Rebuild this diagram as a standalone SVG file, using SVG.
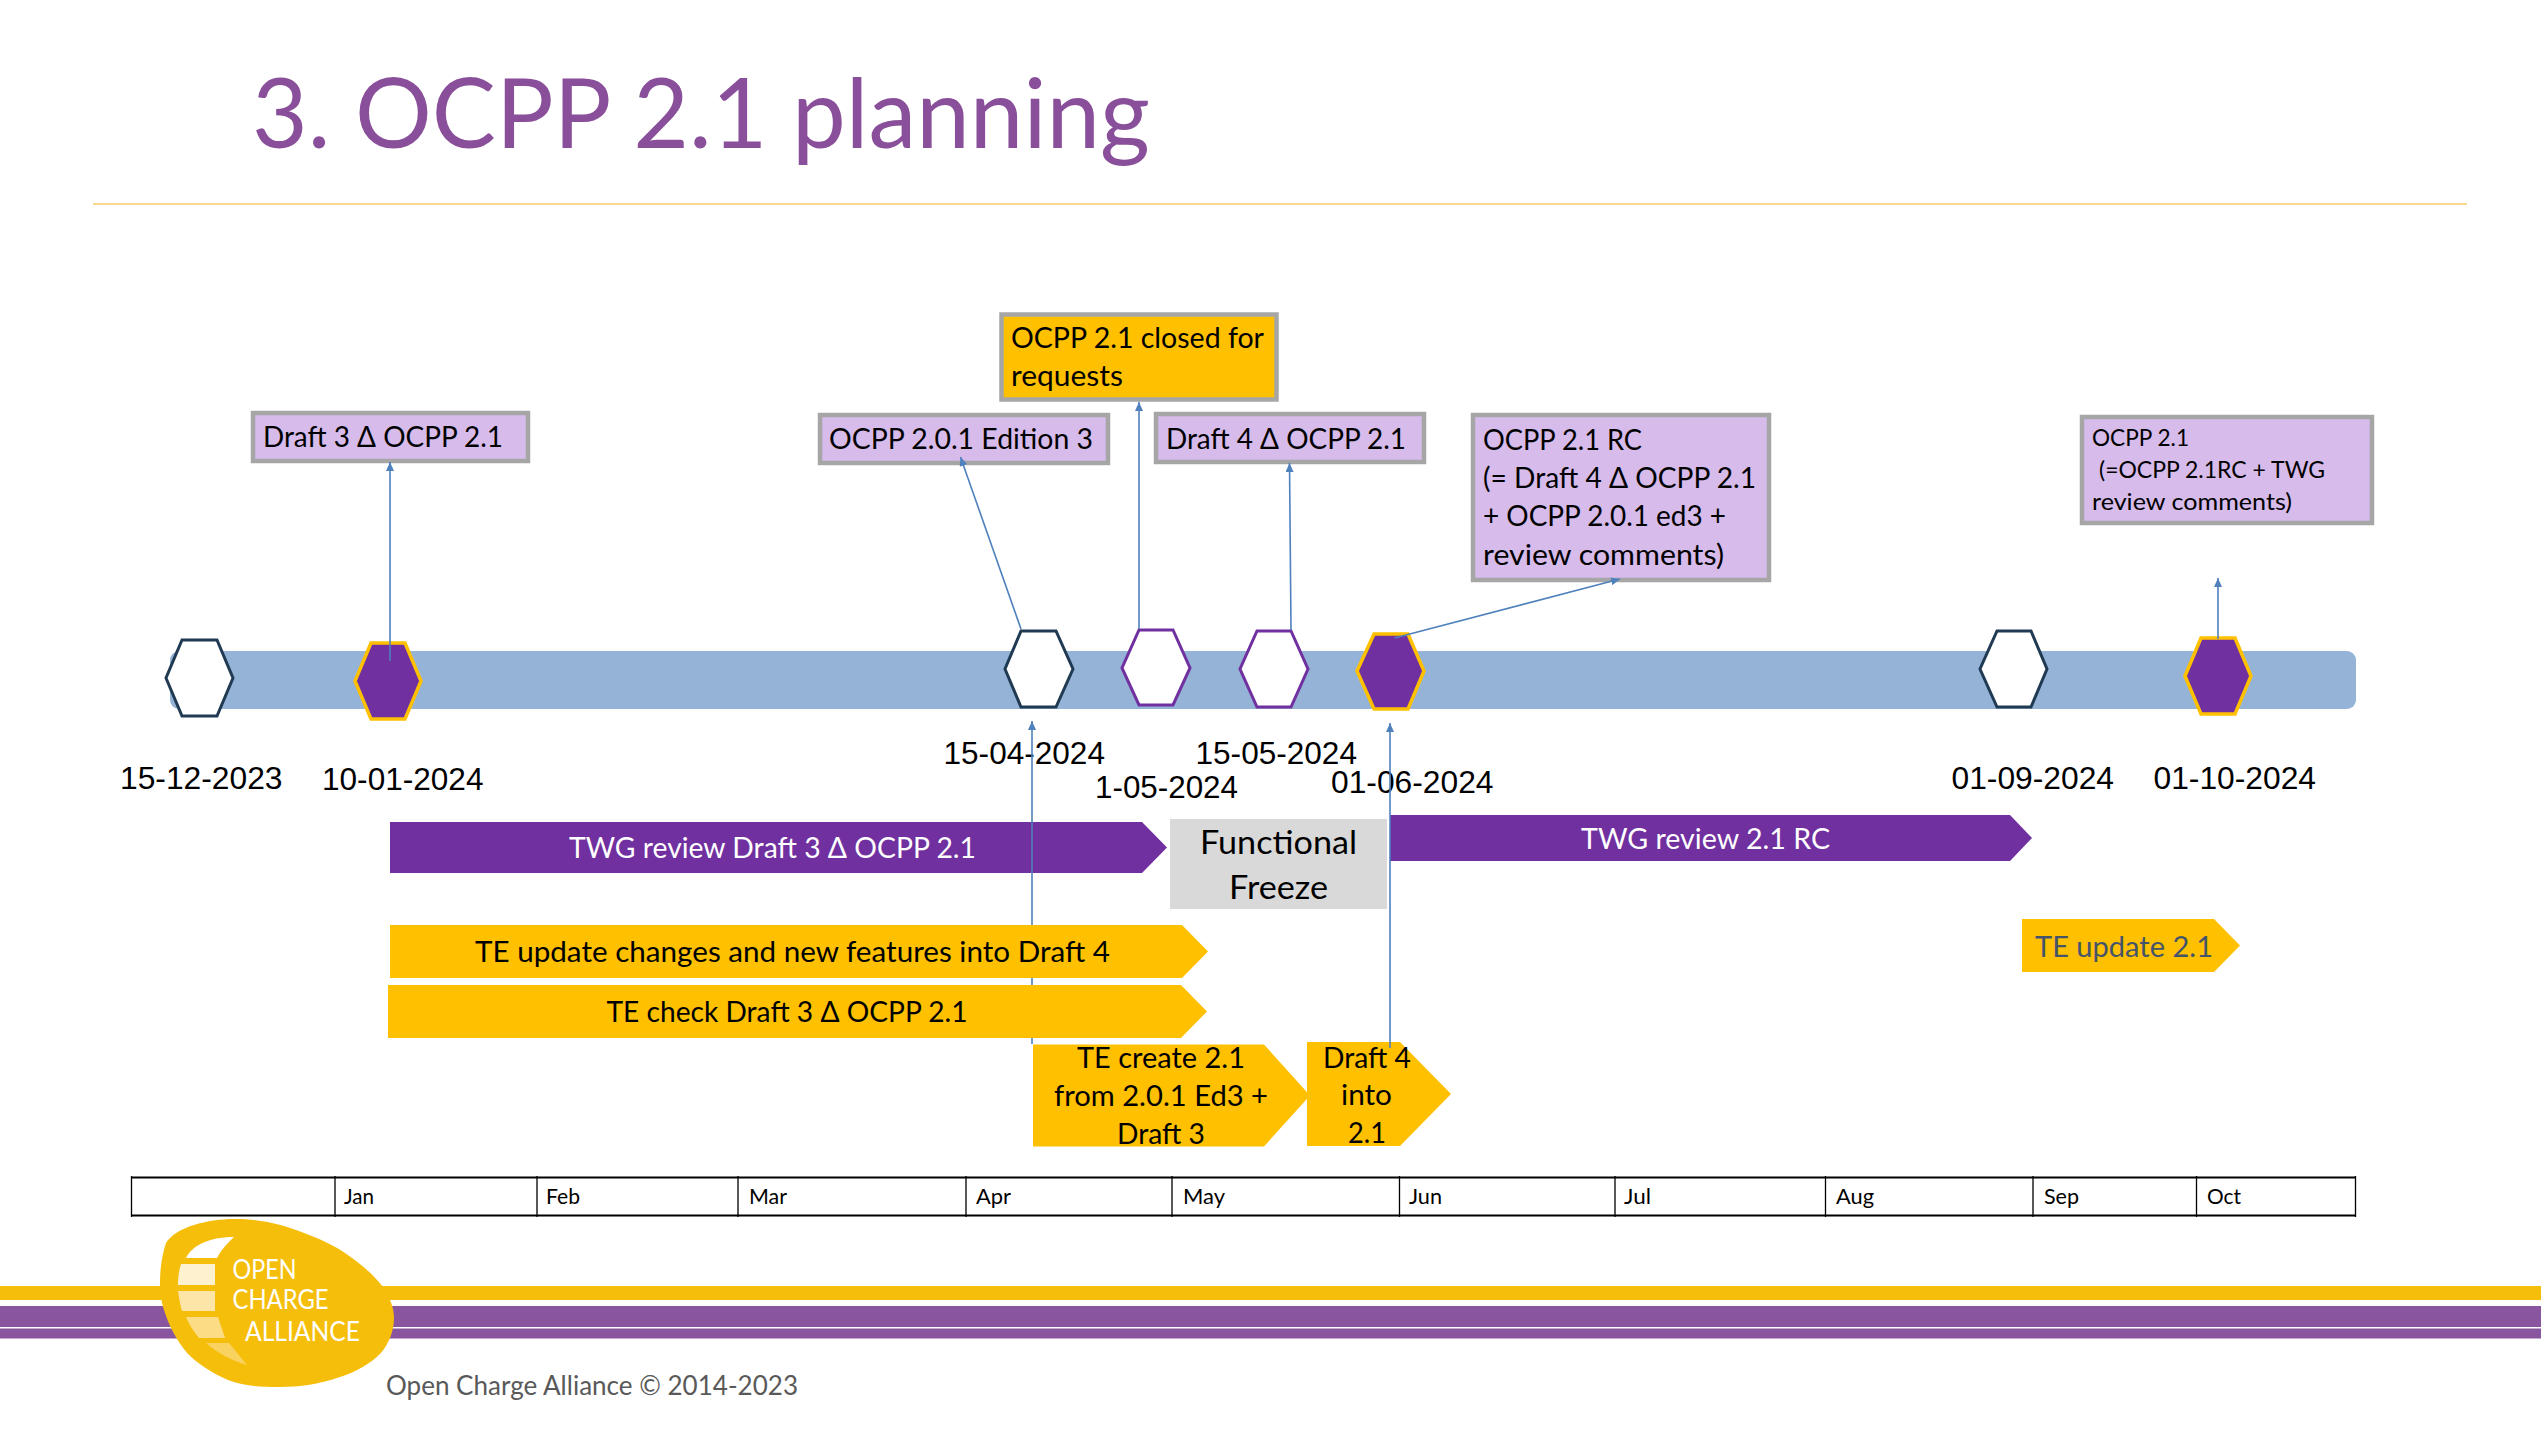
<svg xmlns="http://www.w3.org/2000/svg" width="2541" height="1437" viewBox="0 0 2541 1437">
<style>
text{font-family:"Lato","Noto Sans",sans-serif;fill:#000;white-space:pre}
.d{font-family:"Liberation Sans",Arial,sans-serif;font-size:31.5px}
.b{font-size:28px}
.s{font-size:24px}
.m{font-size:21px}
.a{font-size:28px}
.w{fill:#fff}
.box{fill:#d6bbeb;stroke:#a6a6a6;stroke-width:4.5}
.hd{fill:#fff;stroke:#1f3a52;stroke-width:3}
.hp{fill:#fff;stroke:#7030a0;stroke-width:3}
.hf{fill:#7030a0;stroke:#ffc000;stroke-width:3.5}
.py{fill:#7030a0}
.ye{fill:#ffc000}
.con{fill:none;stroke:#4f81bd;stroke-width:1.6}
.tb{stroke:#000;stroke-width:2;fill:none}
.tv{stroke:#000;stroke-width:1.3;fill:none}
</style>
<defs>
<marker id="arr" markerUnits="userSpaceOnUse" markerWidth="10" markerHeight="10" refX="9" refY="4" orient="auto"><path d="M0 0L9 4L0 8Z" fill="#4f81bd"/></marker>
</defs>
<rect width="2541" height="1437" fill="#fff"/>
<g id="title">
<text x="252" y="147.500" font-size="97" textLength="898" lengthAdjust="spacingAndGlyphs" style="fill:#8a4f9a">3. OCPP 2.1 planning</text>
<rect x="93" y="203" width="2374" height="2" fill="#fbd78f"/>
</g>
<g id="footer-bands">
<rect x="0" y="1286" width="2541" height="14" fill="#f5be0b"/>
<rect x="0" y="1306" width="2541" height="21" fill="#89559e"/>
<rect x="0" y="1328.5" width="2541" height="10" fill="#89559e"/>
</g>
<g id="timeline-bar"><rect x="170" y="651" width="2186" height="58" rx="9" fill="#95b3d7"/></g>
<g id="milestone-2023-12-15"><polygon class="hd" points="182,640 217,640 233,678 217,716 182,716 166,678"/></g>
<g id="milestone-2024-01-10"><polygon class="hf" points="371,643 405,643 421,681 405,719 371,719 355,681"/></g>
<g id="milestone-2024-04-15"><polygon class="hd" points="1021,631 1056,631 1073,669 1056,707 1021,707 1005,669"/></g>
<g id="milestone-2024-05-01"><polygon class="hp" points="1139,630 1173,630 1190,668 1173,705 1139,705 1122,668"/></g>
<g id="milestone-2024-05-15"><polygon class="hp" points="1257,631 1291,631 1308,669 1291,707 1257,707 1240,669"/></g>
<g id="milestone-2024-06-01"><polygon class="hf" points="1374,634 1408,634 1424,671 1408,709 1374,709 1357,671"/></g>
<g id="milestone-2024-09-01"><polygon class="hd" points="1997,631 2031,631 2047,669 2031,707 1997,707 1980,669"/></g>
<g id="milestone-2024-10-01"><polygon class="hf" points="2201,638 2235,638 2251,676 2235,714 2201,714 2185,676"/></g>
<g id="date-labels">
<text class="d" x="120" y="788.500" textLength="162.500" lengthAdjust="spacingAndGlyphs">15-12-2023</text>
<text class="d" x="322" y="789.500" textLength="161.500" lengthAdjust="spacingAndGlyphs">10-01-2024</text>
<text class="d" x="943.500" y="763.500" textLength="161.500" lengthAdjust="spacingAndGlyphs">15-04-2024</text>
<text class="d" x="1095" y="797.500" textLength="143" lengthAdjust="spacingAndGlyphs">1-05-2024</text>
<text class="d" x="1195.500" y="763.500" textLength="161.500" lengthAdjust="spacingAndGlyphs">15-05-2024</text>
<text class="d" x="1331" y="792.500" textLength="162.500" lengthAdjust="spacingAndGlyphs">01-06-2024</text>
<text class="d" x="1951.500" y="788.500" textLength="162.500" lengthAdjust="spacingAndGlyphs">01-09-2024</text>
<text class="d" x="2153.500" y="788.500" textLength="162.500" lengthAdjust="spacingAndGlyphs">01-10-2024</text>
</g>
<g id="box-draft3">
<rect class="box" x="253" y="413" width="275" height="48"/>
<text class="b" x="263" y="447" textLength="240" lengthAdjust="spacingAndGlyphs">Draft 3 Δ OCPP 2.1</text>
</g>
<g id="box-201-ed3">
<rect class="box" x="820" y="415" width="288" height="48"/>
<text class="b" x="829" y="449" textLength="264" lengthAdjust="spacingAndGlyphs">OCPP 2.0.1 Edition 3</text>
</g>
<g id="box-closed">
<rect x="1001.5" y="314.5" width="275" height="85" fill="#ffc000" stroke="#a6a6a6" stroke-width="4.5"/>
<text class="b" x="1011" y="348" textLength="253" lengthAdjust="spacingAndGlyphs">OCPP 2.1 closed for</text>
<text class="b" x="1011" y="386" textLength="112" lengthAdjust="spacingAndGlyphs">requests</text>
</g>
<g id="box-draft4">
<rect class="box" x="1156" y="414" width="268" height="48"/>
<text class="b" x="1166" y="449" textLength="240" lengthAdjust="spacingAndGlyphs">Draft 4 Δ OCPP 2.1</text>
</g>
<g id="box-rc">
<rect class="box" x="1473" y="415" width="296" height="165"/>
<text class="b" x="1483" y="450" textLength="159" lengthAdjust="spacingAndGlyphs">OCPP 2.1 RC</text>
<text class="b" x="1483" y="488" textLength="273" lengthAdjust="spacingAndGlyphs">(= Draft 4 Δ OCPP 2.1</text>
<text class="b" x="1483" y="526" textLength="243" lengthAdjust="spacingAndGlyphs">+ OCPP 2.0.1 ed3 +</text>
<text class="b" x="1483" y="565" textLength="241" lengthAdjust="spacingAndGlyphs">review comments)</text>
</g>
<g id="box-final">
<rect class="box" x="2082" y="417" width="290" height="106"/>
<text class="s" x="2092" y="446" textLength="97" lengthAdjust="spacingAndGlyphs">OCPP 2.1</text>
<text class="s" x="2099" y="478" textLength="226" lengthAdjust="spacingAndGlyphs">(=OCPP 2.1RC + TWG</text>
<text class="s" x="2092" y="510" textLength="200" lengthAdjust="spacingAndGlyphs">review comments)</text>
</g>
<g id="bar-twg-draft3">
<polygon class="py" points="390,822 1142,822 1167,847.5 1142,873 390,873"/>
<text class="a w" x="569" y="858" textLength="407" lengthAdjust="spacingAndGlyphs">TWG review Draft 3 Δ OCPP 2.1</text>
</g>
<g id="freeze">
<rect x="1170" y="819" width="217" height="90" fill="#d9d9d9"/>
<text x="1200" y="854" font-size="32" textLength="157" lengthAdjust="spacingAndGlyphs">Functional</text>
<text x="1229" y="899" font-size="32" textLength="99" lengthAdjust="spacingAndGlyphs">Freeze</text>
</g>
<g id="bar-twg-rc">
<polygon class="py" points="1390,815 2010,815 2032,838 2010,861 1390,861"/>
<text class="a w" x="1581" y="849" textLength="249" lengthAdjust="spacingAndGlyphs">TWG review 2.1 RC</text>
</g>
<g id="bar-te-update">
<polygon class="ye" points="390,925 1182,925 1208,951.5 1182,978 390,978"/>
<text class="a" x="475" y="962" textLength="635" lengthAdjust="spacingAndGlyphs">TE update changes and new features into Draft 4</text>
</g>
<g id="bar-te-check">
<polygon class="ye" points="388,985 1181,985 1207,1011.5 1181,1038 388,1038"/>
<text class="a" x="606.5" y="1022" textLength="361" lengthAdjust="spacingAndGlyphs">TE check Draft 3 Δ OCPP 2.1</text>
</g>
<g id="bar-te-create">
<polygon class="ye" points="1033,1044.5 1264,1044.5 1310,1095.5 1264,1146.5 1033,1146.5"/>
<text class="a" x="1077" y="1068" textLength="168" lengthAdjust="spacingAndGlyphs">TE create 2.1</text>
<text class="a" x="1054" y="1106" textLength="214" lengthAdjust="spacingAndGlyphs">from 2.0.1 Ed3 +</text>
<text class="a" x="1117" y="1144" textLength="88" lengthAdjust="spacingAndGlyphs">Draft 3</text>
</g>
<g id="bar-draft4-into">
<polygon class="ye" points="1307,1042 1400,1042 1451,1094 1400,1146 1307,1146"/>
<text class="a" x="1323" y="1068" textLength="88" lengthAdjust="spacingAndGlyphs">Draft 4</text>
<text class="a" x="1341" y="1105" textLength="51" lengthAdjust="spacingAndGlyphs">into</text>
<text class="a" x="1348" y="1143" textLength="38" lengthAdjust="spacingAndGlyphs">2.1</text>
</g>
<g id="bar-te-update-21">
<polygon class="ye" points="2022,919 2214,919 2240,945.5 2214,972 2022,972"/>
<text class="a" x="2035" y="957" textLength="178" lengthAdjust="spacingAndGlyphs" style="fill:#44546a">TE update 2.1</text>
</g>
<g id="month-table">
<path class="tb" d="M131 1177.5H2356M131 1215.5H2356"/>
<path class="tv" d="M131.5 1176V1217M335 1176V1217M537 1176V1217M738 1176V1217M966 1176V1217M1172 1176V1217M1399.5 1176V1217M1615 1176V1217M1825.5 1176V1217M2033 1176V1217M2196.5 1176V1217M2355.5 1176V1217"/>
<text class="m" x="344" y="1204" textLength="30" lengthAdjust="spacingAndGlyphs">Jan</text>
<text class="m" x="546" y="1204" textLength="34" lengthAdjust="spacingAndGlyphs">Feb</text>
<text class="m" x="749" y="1204" textLength="38" lengthAdjust="spacingAndGlyphs">Mar</text>
<text class="m" x="976" y="1204" textLength="35" lengthAdjust="spacingAndGlyphs">Apr</text>
<text class="m" x="1183" y="1204" textLength="42" lengthAdjust="spacingAndGlyphs">May</text>
<text class="m" x="1409" y="1204" textLength="33" lengthAdjust="spacingAndGlyphs">Jun</text>
<text class="m" x="1624" y="1204" textLength="27" lengthAdjust="spacingAndGlyphs">Jul</text>
<text class="m" x="1836" y="1204" textLength="38" lengthAdjust="spacingAndGlyphs">Aug</text>
<text class="m" x="2044" y="1204" textLength="35" lengthAdjust="spacingAndGlyphs">Sep</text>
<text class="m" x="2207" y="1204" textLength="34" lengthAdjust="spacingAndGlyphs">Oct</text>
</g>
<g id="logo">
<path fill="#f5be0b" d="M235 1219C262 1219 284 1225 304 1233C320 1239 333 1245 345 1253C361 1264 373 1274 383 1287C389 1297 394 1306 394 1318C394 1331 389 1343 381 1353C370 1364 356 1372 340 1377C320 1384 300 1387 279 1387C259 1387 243 1386 228 1380C212 1373 198 1364 187 1353C176 1339 169 1326 164 1310C161 1300 160 1293 160 1283C160 1268 162 1255 166 1243C171 1235 181 1229 194 1225C207 1221 220 1219 235 1219Z"/>
<path fill="#fff" d="M186 1258C192 1246 208 1237 234 1237C226 1245 221 1250 217 1258Z"/>
<path fill="#fdf1d0" d="M181 1264H215V1285H178C178 1277 179 1270 181 1264Z"/>
<path fill="#fde5a8" d="M178 1291H215V1311H182C180 1304 179 1298 178 1291Z"/>
<path fill="#fcdc85" d="M186 1317H218L225 1338H199C193 1331 189 1324 186 1317Z"/>
<path fill="#fad25f" d="M206 1343H229C236 1351 241 1358 247 1365C230 1360 216 1352 206 1343Z"/>
<text x="232.500" y="1279" font-size="26" textLength="64" lengthAdjust="spacingAndGlyphs" class="w">OPEN</text>
<text x="232.500" y="1309" font-size="26" textLength="96" lengthAdjust="spacingAndGlyphs" class="w">CHARGE</text>
<text x="245" y="1341" font-size="26" textLength="115" lengthAdjust="spacingAndGlyphs" class="w">ALLIANCE</text>
</g>
<g id="copyright"><text x="386" y="1395" font-size="26" textLength="412" lengthAdjust="spacingAndGlyphs" style="fill:#595959">Open Charge Alliance © 2014-2023</text></g>
<g id="connectors">
<path class="con" d="M390 661V462" marker-end="url(#arr)"/>
<path class="con" d="M1021 629L960.500 457" marker-end="url(#arr)"/>
<path class="con" d="M1032 925V721" marker-end="url(#arr)"/>
<path class="con" d="M1032 978V985M1032 1038V1044"/>
<path class="con" d="M1139 629V402" marker-end="url(#arr)"/>
<path class="con" d="M1291 630L1289.500 463" marker-end="url(#arr)"/>
<path class="con" d="M1394.500 638L1620 579" marker-end="url(#arr)"/>
<path class="con" d="M1390 1048V723" marker-end="url(#arr)"/>
<path class="con" d="M2218 639V578" marker-end="url(#arr)"/>
</g>
</svg>
